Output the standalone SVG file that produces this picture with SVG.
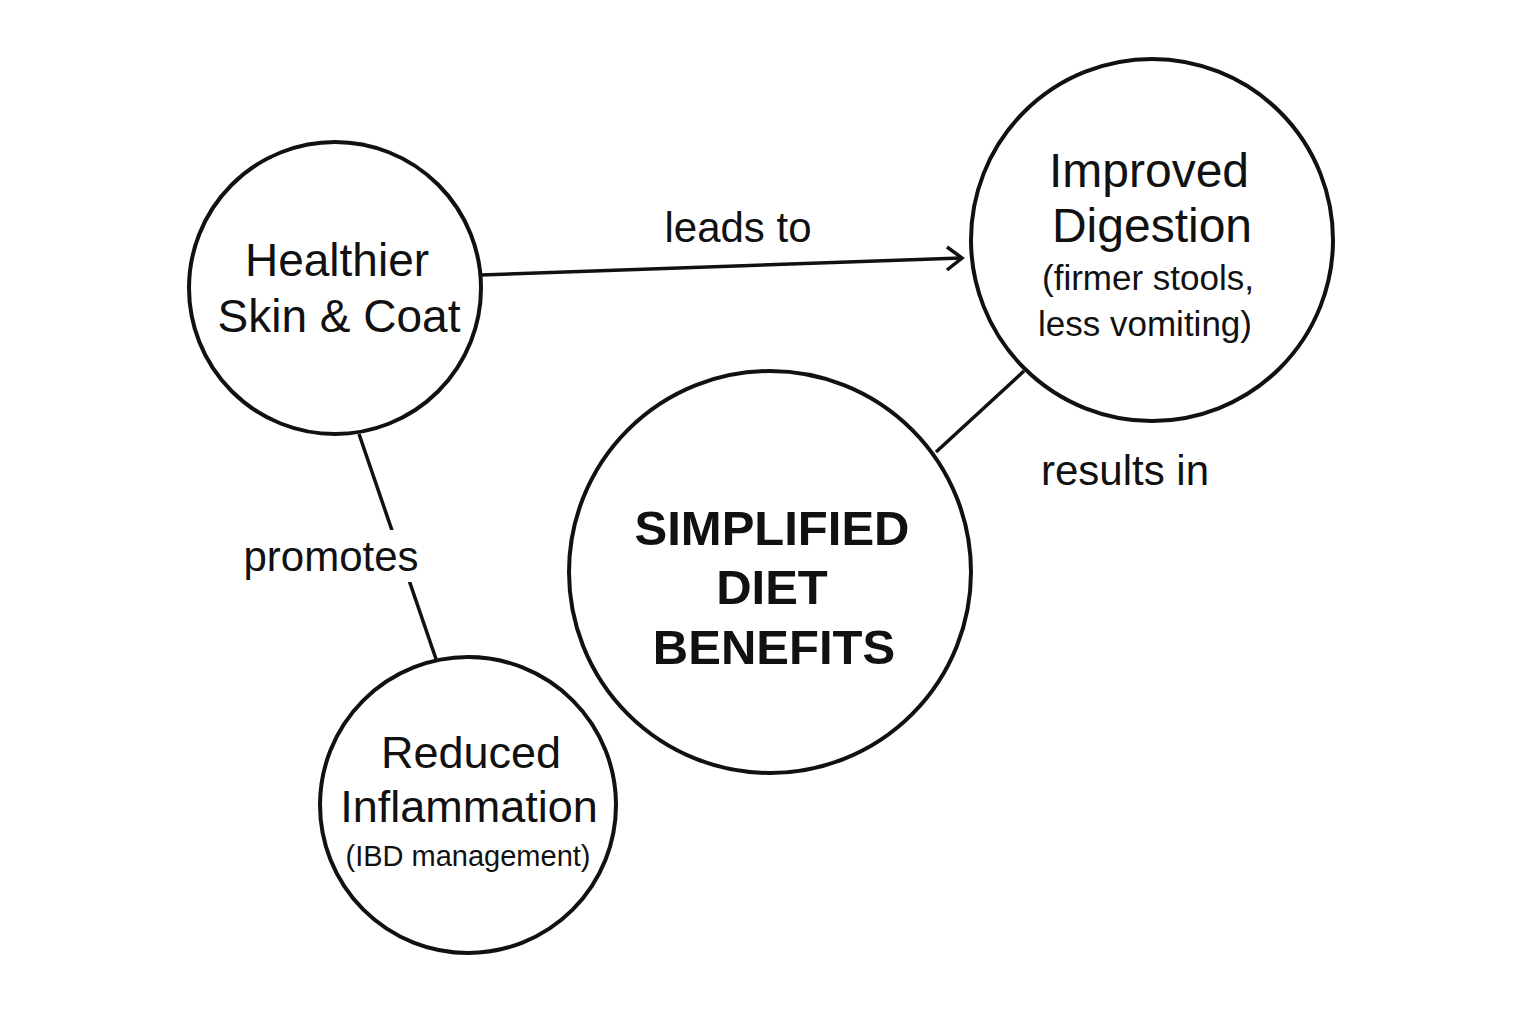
<svg xmlns="http://www.w3.org/2000/svg" width="1536" height="1024" viewBox="0 0 1536 1024">
<style>
.n{fill:#fff;stroke:#111;stroke-width:4}
.t{font-family:"Liberation Sans",Arial,sans-serif;fill:#111;text-anchor:middle}
.c{stroke:#111;stroke-width:3.5;fill:none}
</style>
<rect width="1536" height="1024" fill="#fff"/>
<g id="connectors">
<line class="c" x1="481" y1="275" x2="961" y2="258"/>
<polyline class="c" points="947,247 962,258 947,270"/>
<line class="c" x1="936" y1="452" x2="1024" y2="371"/>
<line class="c" x1="359" y1="434" x2="436" y2="659"/>
<rect x="236" y="530" width="190" height="52" fill="#fff"/>
<text class="t" x="738" y="242" font-size="42">leads to</text>
<text class="t" x="1125" y="485" font-size="42">results in</text>
<text class="t" x="331" y="571" font-size="42">promotes</text>
</g>
<g id="healthier">
<circle class="n" cx="335" cy="288" r="146"/>
<text class="t" x="337" y="276" font-size="46">Healthier</text>
<text class="t" x="339" y="332" font-size="46">Skin &amp; Coat</text>
</g>
<g id="improved">
<circle class="n" cx="1152" cy="240" r="181"/>
<text class="t" x="1149" y="187" font-size="48">Improved</text>
<text class="t" x="1152" y="242" font-size="48">Digestion</text>
<text class="t" x="1148" y="290" font-size="35">(firmer stools,</text>
<text class="t" x="1145" y="336" font-size="35">less vomiting)</text>
</g>
<g id="simplified">
<circle class="n" cx="770" cy="572" r="201"/>
<text class="t" x="772" y="545" font-size="49" font-weight="bold">SIMPLIFIED</text>
<text class="t" x="772" y="604" font-size="49" font-weight="bold">DIET</text>
<text class="t" x="774" y="664" font-size="49" font-weight="bold">BENEFITS</text>
</g>
<g id="reduced">
<circle class="n" cx="468" cy="805" r="148"/>
<text class="t" x="471" y="768" font-size="45">Reduced</text>
<text class="t" x="469" y="822" font-size="45">Inflammation</text>
<text class="t" x="468" y="866" font-size="29">(IBD management)</text>
</g>
</svg>
